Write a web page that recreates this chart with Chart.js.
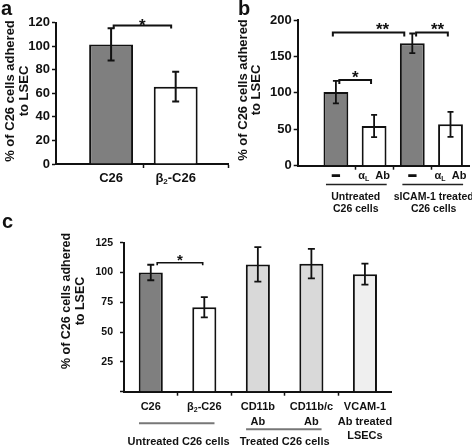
<!DOCTYPE html>
<html>
<head>
<meta charset="utf-8">
<script src="https://cdn.jsdelivr.net/npm/chart.js@4.4.0/dist/chart.umd.min.js"></script>
<style>
html,body{margin:0;padding:0;background:#fff;}
#wrap{position:relative;width:472px;height:446px;overflow:hidden;background:#fff;}
canvas{position:absolute;display:block;}
</style>
</head>
<body>
<div id="wrap">
<canvas id="ca" width="236" height="200" style="left:0;top:0"></canvas>
<canvas id="cb" width="236" height="240" style="left:236px;top:0"></canvas>
<canvas id="cc" width="472" height="241" style="left:0;top:205px"></canvas>
</div>
<script>
// ---------- Panel a data ----------
const catsA = ['C26', 'β_2-C26'];
const valsA = [101.5, 65.7];
const errsA = [13.7, 12.7];
const colorsA = ['#7f7f7f', '#ffffff'];
// significance brackets: [from, to, value, text, textPos]
const bracketsA = [[1.04, 1.93, 117.7, '*']];

// ---------- Panel b data ----------
const catsB = ['–', 'α_L  Ab', '–', 'α_L  Ab'];
const valsB = [101, 54.5, 168, 56.8];
const errsB = [15.5, 15.3, 13.5, 17.2];
const colorsB = ['#7f7f7f', '#ffffff', '#7f7f7f', '#ffffff'];
// groups: [firstBar, lastBar, text, textPos]
const groupsB = [[1, 2, 'Untreated\nC26 cells', 1.52], [3, 4, 'sICAM-1 treated\nC26 cells', 3.56]];
const bracketsB = [[0.92, 2.79, 183, '**', 2.22], [3.10, 3.93, 183, '**', 3.66], [1.09, 1.92, 117.6, '*']];

// ---------- Panel c data ----------
const catsC = ['C26', 'β_2-C26', 'CD11b\nAb', 'CD11b/c\nAb', 'VCAM-1\nAb treated\nLSECs'];
const valsC = [100, 70.8, 106.8, 107.4, 98.6];
const errsC = [6.5, 8.5, 14.5, 12.4, 8.8];
const colorsC = ['#7f7f7f', '#ffffff', '#d9d9d9', '#d9d9d9', '#efefef'];
const groupsC = [[1, 2, 'Untreated C26 cells', 1.52], [3, 4, 'Treated C26 cells', 3.5]];
const bracketsC = [[1.12, 1.97, 108.2, '*']];

const yTitle = ['% of C26 cells adhered', 'to LSEC'];

const FONT = '"Liberation Sans", Arial, Helvetica, sans-serif';

function drawRich(ctx, text, x, y, size, thick) {
  const segs = [];
  for (let i = 0; i < text.length; i++) {
    if (text[i] === '_' && i + 1 < text.length) { segs.push({t: text[i + 1], sub: true}); i++; }
    else if (segs.length && !segs[segs.length - 1].sub) segs[segs.length - 1].t += text[i];
    else segs.push({t: text[i], sub: false});
  }
  const big = 'bold ' + size + 'px ' + FONT;
  const small = 'bold ' + Math.round(size * 0.62) + 'px ' + FONT;
  let w = 0;
  segs.forEach(s => { ctx.font = s.sub ? small : big; s.w = ctx.measureText(s.t).width; w += s.w; });
  let cx = x - w / 2;
  ctx.textAlign = 'left';
  ctx.textBaseline = 'middle';
  segs.forEach(s => {
    ctx.font = s.sub ? small : big;
    const yy = s.sub ? y + size * 0.3 : y;
    ctx.fillText(s.t, cx, yy);
    if (thick) { ctx.lineWidth = thick; ctx.strokeText(s.t, cx, yy); }
    cx += s.w;
  });
}

function buildPanel(id, P) {
  const plugin = {
    id: 'annot_' + id,
    afterDatasetsDraw(chart) {
      const ctx = chart.ctx, xs = chart.scales.x, ys = chart.scales.y;
      ctx.save();
      ctx.strokeStyle = '#111';
      ctx.fillStyle = '#111';
      ctx.lineCap = 'butt';
      // error bars
      ctx.lineWidth = P.errWidth;
      P.vals.forEach((v, i) => {
        const x = xs.getPixelForValue(i + 1);
        const yt = ys.getPixelForValue(v + P.errs[i]);
        const yb = ys.getPixelForValue(v - P.errs[i]);
        ctx.beginPath();
        ctx.moveTo(x, yt); ctx.lineTo(x, yb);
        ctx.moveTo(x - P.cap, yt); ctx.lineTo(x + P.cap, yt);
        ctx.moveTo(x - P.cap, yb); ctx.lineTo(x + P.cap, yb);
        ctx.stroke();
      });
      // brackets
      ctx.lineWidth = P.brWidth;
      P.brackets.forEach(b => {
        const x1 = xs.getPixelForValue(b[0]), x2 = xs.getPixelForValue(b[1]);
        const y = ys.getPixelForValue(b[2]);
        ctx.beginPath();
        ctx.moveTo(x1, y + P.leg); ctx.lineTo(x1, y); ctx.lineTo(x2, y); ctx.lineTo(x2, y + P.leg);
        ctx.stroke();
        const tx = xs.getPixelForValue(b.length > 4 ? b[4] : (b[0] + b[1]) / 2);
        ctx.font = 'bold ' + P.starSize + 'px ' + FONT;
        ctx.textAlign = 'center';
        ctx.textBaseline = 'alphabetic';
        ctx.fillText(b[3], tx, y - P.starGap + P.starSize * 0.56);
      });
      // category labels
      ctx.fillStyle = '#111';
      ctx.strokeStyle = '#111';
      P.cats.forEach((c, i) => {
        const x = xs.getPixelForValue(i + 1);
        c.split('\n').forEach((line, k) => {
          const isDash = line === '–';
          drawRich(ctx, line, x, P.catY + k * P.catLH, isDash ? P.dashSize : P.catSize, isDash ? 1.4 : 0);
        });
      });
      // groups
      (P.groups || []).forEach((g, gi) => {
        const xa = xs.getPixelForValue(g[0] - P.gL), xb = xs.getPixelForValue(g[1] + P.gR);
        ctx.strokeStyle = P.gColor;
        ctx.lineWidth = P.gWidth;
        ctx.beginPath();
        ctx.moveTo(xa, P.gLineY[gi]); ctx.lineTo(xb, P.gLineY[gi]);
        ctx.stroke();
        const tx = xs.getPixelForValue(g.length > 3 ? g[3] : (g[0] + g[1]) / 2);
        g[2].split('\n').forEach((line, k) => {
          drawRich(ctx, line, tx, P.gTextY + k * P.gLH, P.gSize, 0);
        });
      });
      // y title
      ctx.fillStyle = '#111';
      ctx.font = 'bold ' + P.titleSize + 'px ' + FONT;
      ctx.textAlign = 'center';
      ctx.textBaseline = 'middle';
      yTitle.forEach((t, k) => {
        ctx.save();
        ctx.translate(P.titleX[k], P.titleY);
        ctx.rotate(-Math.PI / 2);
        ctx.fillText(t, 0, 0);
        ctx.restore();
      });
      // panel letter
      ctx.font = 'bold ' + P.letterSize + 'px ' + FONT;
      ctx.textAlign = 'left';
      ctx.textBaseline = 'alphabetic';
      ctx.fillText(P.letter, P.letterX, P.letterY);
      ctx.restore();
    }
  };

  const cv = document.getElementById(id);
  return new Chart(cv, {
    type: 'bar',
    data: {
      datasets: [{
        data: P.vals.map((v, i) => ({x: i + 1, y: v})),
        backgroundColor: P.colors,
        borderColor: '#111',
        borderWidth: 2,
        borderSkipped: 'bottom',
        barPercentage: P.barPct,
        categoryPercentage: 1
      }]
    },
    options: {
      responsive: false,
      animation: false,
      events: [],
      layout: {padding: {left: 0, top: P.area.top, right: cv.width - P.area.right, bottom: 0}},
      plugins: {legend: {display: false}, tooltip: {enabled: false}},
      scales: {
        x: {
          type: 'linear',
          offset: false,
          bounds: 'data',
          min: P.xMin, max: P.xMax,
          afterBuildTicks: s => { s.ticks = P.xTicks.map(v => ({value: v})); },
          afterFit: s => { s.height = cv.height - P.area.bottom; },
          ticks: {display: false},
          grid: {offset: false, drawOnChartArea: false, drawTicks: true, tickLength: 4, color: '#111', tickWidth: 1.5},
          border: {display: true, color: '#111', width: 2}
        },
        y: {
          min: 0, max: P.yMax,
          afterFit: s => { s.width = P.area.left; },
          ticks: {
            stepSize: P.yStep,
            color: '#111',
            padding: P.tickPad,
            font: {family: FONT, size: P.tickSize, weight: 'bold'},
            callback: v => (P.hideZero && v === 0) ? '' : v
          },
          grid: {drawOnChartArea: false, drawTicks: true, tickLength: 4, color: '#111', tickWidth: 1.5},
          border: {display: true, color: '#111', width: 2}
        }
      }
    },
    plugins: [plugin]
  });
}

buildPanel('ca', {
  vals: valsA, errs: errsA, colors: colorsA, cats: catsA, brackets: bracketsA,
  area: {left: 56, right: 228, top: 22.7, bottom: 164},
  xMin: 0.147, xMax: 2.81, xTicks: [1.5, 2.81], barPct: 0.68,
  yMax: 120, yStep: 20, tickSize: 13, tickPad: 2, hideZero: false,
  errWidth: 2, cap: 3.5, brWidth: 2, leg: 3, starSize: 17, starGap: 4,
  catY: 178, catLH: 14, catSize: 13, dashSize: 14,
  titleX: [10, 24], titleY: 91, titleSize: 13,
  letter: 'a', letterX: 1, letterY: 15, letterSize: 20
});

buildPanel('cb', {
  vals: valsB, errs: errsB, colors: colorsB, cats: catsB, brackets: bracketsB, groups: groupsB,
  area: {left: 61.7, right: 233.6, top: 20, bottom: 165.7},
  xMin: 0, xMax: 4.5, xTicks: [1.5, 2.5, 3.5], barPct: 0.65,
  yMax: 200, yStep: 50, tickSize: 13, tickPad: 2, hideZero: false,
  errWidth: 1.8, cap: 3, brWidth: 2, leg: 4, starSize: 17, starGap: 7,
  catY: 176, catLH: 14, catSize: 11, dashSize: 14,
  gL: 0.26, gR: 0.33, gLineY: [184.5, 184.5], gColor: '#222', gWidth: 1.5,
  gTextY: 197, gLH: 12.5, gSize: 10.5,
  titleX: [7, 20], titleY: 90, titleSize: 13,
  letter: 'b', letterX: 2, letterY: 15, letterSize: 20
});

buildPanel('cc', {
  vals: valsC, errs: errsC, colors: colorsC, cats: catsC, brackets: bracketsC, groups: groupsC,
  area: {left: 124, right: 391.7, top: 37.7, bottom: 186.7},
  xMin: 0.5, xMax: 5.5, xTicks: [1.5, 2.5, 3.5, 4.5], barPct: 0.45,
  yMax: 125, yStep: 25, tickSize: 10.5, tickPad: 7, hideZero: true,
  errWidth: 1.8, cap: 3.5, brWidth: 1.6, leg: 2.5, starSize: 15, starGap: 6,
  catY: 202, catLH: 14.5, catSize: 11, dashSize: 14,
  gL: 0.22, gR: 0.19, gLineY: [218.3, 224.3], gColor: '#777', gWidth: 2,
  gTextY: 236.7, gLH: 13, gSize: 11,
  titleX: [67, 81], titleY: 96, titleSize: 12.5,
  letter: 'c', letterX: 2, letterY: 23, letterSize: 20
});
</script>
</body>
</html>
